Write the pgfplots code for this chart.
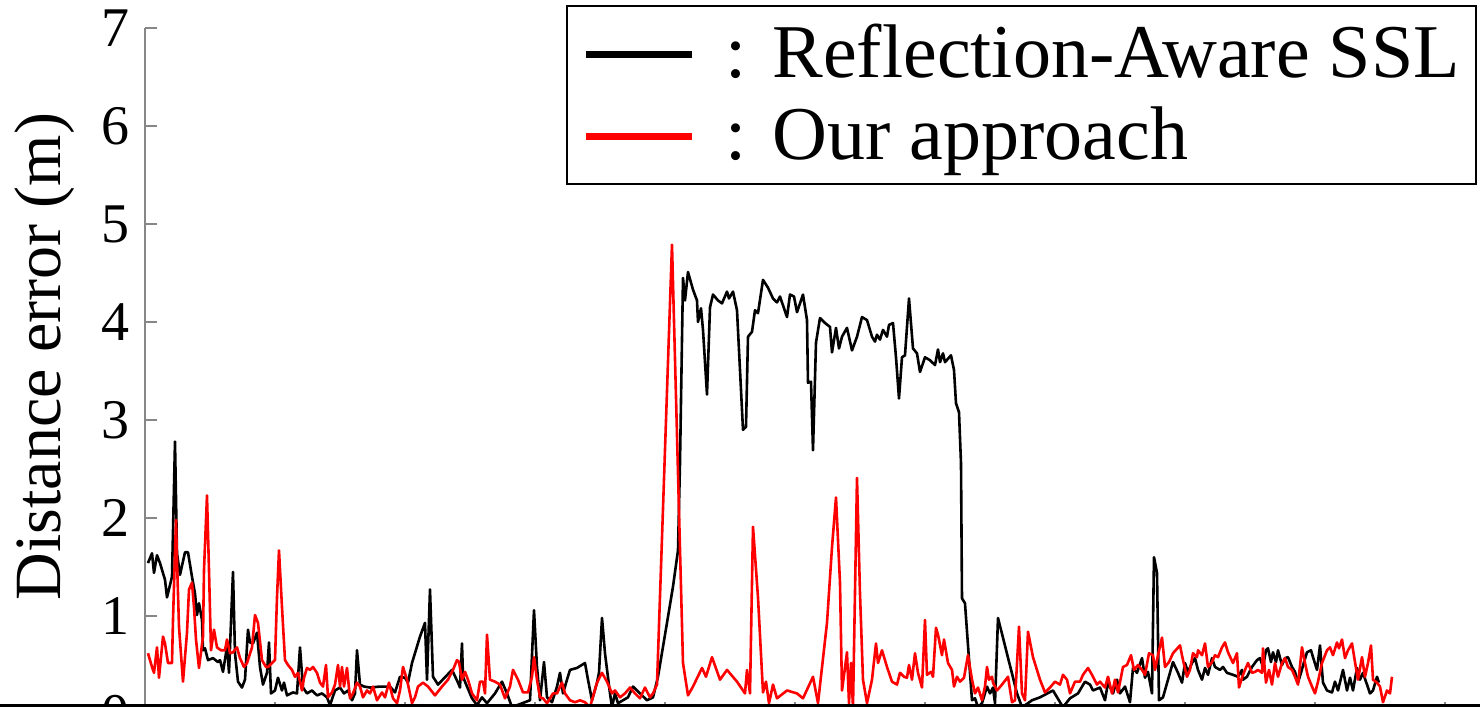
\documentclass[border=0pt]{standalone}
\usepackage{fontspec}
\setmainfont{Liberation Serif}
\usepackage{pgfplots}
\pgfplotsset{compat=1.18}
\definecolor{axgray}{RGB}{135,135,135}
\begin{document}
\begin{tikzpicture}
\begin{axis}[
  scale only axis,
  width=667.5pt, height=343pt,
  xmin=0, xmax=1335, ymin=0, ymax=7,
  axis x line*=bottom, axis y line*=left,
  x axis line style={black},
  y axis line style={axgray, line width=1pt},
  xtick={0,130,...,1300}, xticklabel=\empty,
  ytick={0,1,...,7},
  tick align=inside,
  major tick length=6pt,
  tick style={axgray, line width=1pt},
  /pgf/number format/assume math mode=true,
  yticklabel style={font=\fontsize{28}{28}\selectfont, inner sep=0pt, xshift=-7.5pt},
  ylabel={Distance error (m)},
  ylabel style={at={(axis description cs:-0.0753,0.521)}, anchor=center, font=\fontsize{33}{33}\selectfont},
  every axis plot/.append style={line join=round},
  legend cell align=left,
  legend image code/.code={\draw[#1, line width=3.5pt] (0pt,0pt) -- (53pt,0pt);},
  legend style={at={(axis description cs:0.99775,1.0335)}, anchor=north east,
    draw=black, line width=1.2pt, inner xsep=8pt, inner ysep=6pt,
    font=\fontsize{38}{38}\selectfont, row sep=5pt,
    nodes={inner sep=0pt, text height=29.5pt, text depth=6.5pt},
    /tikz/every odd column/.append style={column sep=15pt}},
]
\addplot[black, line width=1.3pt] coordinates {
(3,1.54) (7,1.64) (9,1.44) (12,1.62) (15,1.54) (20,1.37) (22,1.19) (27,1.40) (30,2.78) (32,1.64) (35,1.42) (40,1.65) (43,1.65) (47,1.40) (50,1.23) (52,1.01) (54,1.13) (57,0.96) (58,0.65) (60,0.67) (63,0.55) (68,0.57) (73,0.53) (75,0.55) (78,0.43) (81,0.62) (82,0.72) (84,0.42) (88,1.45) (90,0.62) (93,0.33) (97,0.27) (100,0.35) (103,0.86) (105,0.73) (108,0.72) (112,0.83) (115,0.48) (118,0.30) (122,0.42) (124,0.73) (126,0.21) (130,0.24) (133,0.37) (137,0.24) (139,0.32) (142,0.19) (148,0.22) (152,0.21) (155,0.68) (158,0.27) (162,0.21) (167,0.24) (172,0.19) (177,0.21) (182,0.17) (185,0.09) (190,0.24) (195,0.27) (199,0.21) (203,0.24) (207,0.14) (210,0.21) (212,0.65) (215,0.30) (219,0.28) (225,0.27) (235,0.28) (245,0.28) (250,0.22) (255,0.38) (260,0.37) (263,0.32) (267,0.52) (275,0.79) (280,0.93) (282,0.35) (285,1.27) (288,0.38) (293,0.30) (307,0.45) (313,0.32) (315,0.27) (317,0.72) (318,0.38) (322,0.28) (327,0.16) (332,0.09) (337,0.17) (342,0.11) (350,0.21) (357,0.33) (362,0.21) (367,0.07) (385,0.14) (389,1.06) (392,0.48) (395,0.14) (399,0.53) (402,0.17) (407,0.12) (412,0.28) (415,0.42) (418,0.21) (422,0.35) (425,0.45) (432,0.47) (440,0.52) (443,0.35) (447,0.14) (452,0.32) (454,0.42) (457,0.98) (460,0.62) (465,0.21) (467,0.07) (470,0.21) (473,0.11) (478,0.14) (483,0.17) (488,0.28) (495,0.21) (502,0.14) (508,0.17) (513,0.38) (522,0.93) (528,1.30) (533,1.67) (535,2.56) (538,4.45) (540,4.22) (543,4.51) (548,4.33) (552,4.22) (553,4.00) (556,4.14) (558,3.92) (562,3.26) (565,4.15) (568,4.28) (573,4.22) (577,4.19) (582,4.31) (584,4.24) (588,4.31) (592,4.12) (595,3.51) (598,2.90) (601,2.93) (603,3.85) (607,3.90) (610,4.12) (613,4.09) (618,4.43) (623,4.35) (628,4.24) (632,4.20) (635,4.26) (642,4.05) (645,4.28) (649,4.26) (652,4.10) (658,4.28) (662,4.02) (663,3.38) (666,3.39) (668,2.69) (671,3.79) (675,4.04) (680,3.99) (685,3.95) (687,3.69) (691,3.94) (694,3.73) (697,3.85) (702,3.94) (707,3.71) (712,3.85) (717,4.05) (722,4.02) (727,3.85) (730,3.80) (732,3.87) (735,3.82) (738,3.92) (742,3.85) (744,3.97) (748,3.99) (751,3.64) (754,3.22) (757,3.64) (760,3.66) (764,4.24) (768,3.73) (772,3.68) (775,3.49) (780,3.64) (785,3.61) (790,3.56) (793,3.72) (795,3.59) (798,3.68) (800,3.59) (806,3.66) (809,3.51) (811,3.17) (814,3.08) (816,2.56) (817,1.18) (820,1.13) (823,0.70) (827,0.14) (830,0.16) (833,0.07) (837,0.11) (842,0.28) (845,0.21) (848,0.27) (850,0.11) (853,0.98) (872,0.21) (877,0.07) (883,0.11) (887,0.14) (895,0.17) (908,0.24) (918,0.07) (925,0.16) (933,0.21) (940,0.33) (945,0.30) (948,0.24) (955,0.27) (960,0.14) (963,0.32) (968,0.21) (972,0.35) (975,0.21) (980,0.28) (985,0.12) (988,0.47) (992,0.42) (997,0.57) (1000,0.37) (1003,0.43) (1007,0.21) (1009,1.60) (1012,1.44) (1014,0.14) (1018,0.17) (1023,0.35) (1028,0.53) (1033,0.42) (1037,0.32) (1040,0.52) (1043,0.43) (1047,0.52) (1050,0.57) (1053,0.45) (1057,0.35) (1060,0.47) (1063,0.40) (1067,0.57) (1070,0.48) (1075,0.45) (1078,0.48) (1082,0.42) (1088,0.40) (1093,0.38) (1097,0.45) (1098,0.35) (1102,0.38) (1107,0.48) (1112,0.55) (1115,0.57) (1118,0.48) (1121,0.65) (1123,0.67) (1126,0.53) (1128,0.63) (1131,0.53) (1133,0.65) (1137,0.50) (1140,0.57) (1143,0.58) (1147,0.48) (1150,0.43) (1153,0.32) (1156,0.42) (1159,0.53) (1162,0.63) (1166,0.65) (1168,0.58) (1172,0.45) (1175,0.70) (1178,0.32) (1182,0.24) (1187,0.22) (1190,0.33) (1193,0.24) (1198,0.45) (1202,0.24) (1205,0.37) (1208,0.24) (1212,0.47) (1215,0.35) (1218,0.42) (1222,0.30) (1225,0.21) (1228,0.24) (1232,0.38) (1234,0.32)
};
\addlegendentry{: Reflection-Aware SSL}
\addplot[red, line width=1.3pt] coordinates {
(3,0.62) (7,0.48) (9,0.42) (12,0.68) (14,0.37) (18,0.79) (20,0.72) (23,0.52) (27,0.52) (28,0.96) (31,1.98) (32,1.57) (34,0.89) (38,0.33) (42,0.83) (44,1.27) (47,1.34) (49,1.09) (51,0.76) (54,0.47) (58,0.79) (59,1.47) (62,2.23) (64,1.47) (66,0.65) (69,0.86) (72,0.68) (76,0.65) (80,0.65) (82,0.76) (85,0.62) (88,0.63) (92,0.68) (95,0.57) (99,0.48) (102,0.52) (107,0.68) (110,1.01) (113,0.93) (117,0.55) (121,0.48) (123,0.48) (127,0.52) (130,0.55) (132,1.19) (134,1.67) (137,1.09) (140,0.55) (143,0.50) (147,0.45) (150,0.38) (153,0.42) (157,0.24) (159,0.37) (162,0.47) (165,0.45) (168,0.48) (172,0.42) (175,0.32) (178,0.28) (181,0.50) (183,0.17) (187,0.22) (190,0.30) (193,0.50) (195,0.28) (197,0.48) (199,0.28) (202,0.47) (205,0.16) (208,0.21) (212,0.32) (215,0.28) (218,0.17) (222,0.24) (225,0.21) (228,0.28) (232,0.14) (237,0.22) (240,0.17) (244,0.32) (248,0.16) (252,0.11) (255,0.24) (258,0.48) (262,0.35) (267,0.11) (270,0.17) (273,0.28) (278,0.32) (283,0.28) (290,0.19) (297,0.28) (303,0.35) (308,0.45) (312,0.55) (314,0.53) (317,0.35) (320,0.43) (323,0.35) (327,0.21) (332,0.14) (335,0.33) (338,0.33) (340,0.21) (342,0.81) (345,0.35) (350,0.33) (355,0.30) (360,0.16) (365,0.28) (368,0.45) (373,0.35) (378,0.22) (383,0.22) (387,0.38) (389,0.58) (392,0.35) (395,0.17) (398,0.16) (402,0.11) (408,0.21) (412,0.21) (417,0.32) (420,0.21) (425,0.14) (430,0.12) (435,0.14) (440,0.12) (445,0.07) (452,0.32) (457,0.42) (462,0.33) (467,0.21) (470,0.24) (475,0.17) (480,0.21) (485,0.27) (490,0.21) (495,0.16) (500,0.27) (505,0.17) (508,0.21) (512,0.30) (527,4.79) (538,0.52) (543,0.19) (548,0.28) (557,0.47) (561,0.38) (567,0.58) (575,0.35) (582,0.45) (592,0.33) (600,0.21) (602,0.45) (605,0.21) (608,1.91) (613,1.19) (618,0.22) (621,0.33) (624,0.11) (628,0.30) (632,0.16) (642,0.24) (652,0.21) (658,0.16) (668,0.38) (673,0.11) (682,0.93) (687,1.70) (691,2.21) (695,1.34) (697,0.24) (702,0.63) (704,0.11) (706,0.52) (708,0.07) (712,2.41) (715,1.23) (718,0.35) (722,0.11) (727,0.35) (731,0.72) (733,0.52) (737,0.65) (742,0.48) (747,0.33) (752,0.30) (755,0.42) (759,0.38) (762,0.37) (764,0.50) (767,0.35) (770,0.62) (773,0.42) (777,0.27) (780,0.96) (782,0.40) (786,0.43) (788,0.38) (791,0.88) (793,0.81) (797,0.60) (799,0.76) (803,0.52) (807,0.45) (809,0.28) (812,0.38) (815,0.33) (819,0.37) (823,0.60) (827,0.35) (830,0.21) (833,0.27) (837,0.14) (840,0.28) (842,0.48) (844,0.35) (847,0.38) (848,0.32) (852,0.24) (857,0.30) (863,0.38) (867,0.12) (870,0.14) (874,0.89) (877,0.21) (880,0.14) (883,0.84) (888,0.58) (895,0.35) (900,0.22) (905,0.27) (910,0.33) (915,0.30) (918,0.40) (922,0.35) (925,0.21) (930,0.33) (935,0.33) (938,0.40) (943,0.47) (947,0.40) (952,0.30) (955,0.33) (960,0.27) (963,0.38) (967,0.21) (970,0.35) (973,0.22) (978,0.48) (982,0.50) (986,0.60) (989,0.45) (993,0.50) (997,0.45) (1000,0.40) (1004,0.62) (1008,0.60) (1010,0.45) (1013,0.60) (1017,0.78) (1020,0.48) (1024,0.53) (1028,0.62) (1035,0.70) (1038,0.55) (1042,0.38) (1045,0.45) (1048,0.62) (1052,0.58) (1053,0.65) (1057,0.60) (1060,0.72) (1063,0.48) (1067,0.53) (1070,0.60) (1073,0.58) (1077,0.68) (1080,0.73) (1083,0.63) (1088,0.52) (1092,0.62) (1094,0.27) (1097,0.37) (1100,0.45) (1103,0.52) (1107,0.42) (1110,0.43) (1113,0.45) (1117,0.42) (1118,0.67) (1121,0.32) (1124,0.45) (1127,0.30) (1130,0.52) (1133,0.38) (1137,0.52) (1140,0.57) (1143,0.48) (1147,0.45) (1150,0.38) (1153,0.30) (1157,0.68) (1160,0.52) (1163,0.38) (1167,0.28) (1170,0.21) (1173,0.33) (1177,0.52) (1182,0.65) (1185,0.68) (1188,0.60) (1192,0.73) (1194,0.67) (1197,0.76) (1200,0.57) (1203,0.65) (1207,0.72) (1210,0.53) (1213,0.35) (1217,0.58) (1220,0.38) (1223,0.52) (1226,0.70) (1228,0.35) (1232,0.32) (1235,0.28) (1238,0.12) (1242,0.24) (1245,0.21) (1247,0.38)
};
\addlegendentry{: Our approach}
\end{axis}
\draw[black, line width=1.5pt] (-72.5pt,4pt) -- (667.5pt,4pt);
\pgfresetboundingbox
\path[use as bounding box] (-72.5pt,3.5pt) rectangle (667.5pt,357pt);
\end{tikzpicture}
\end{document}
